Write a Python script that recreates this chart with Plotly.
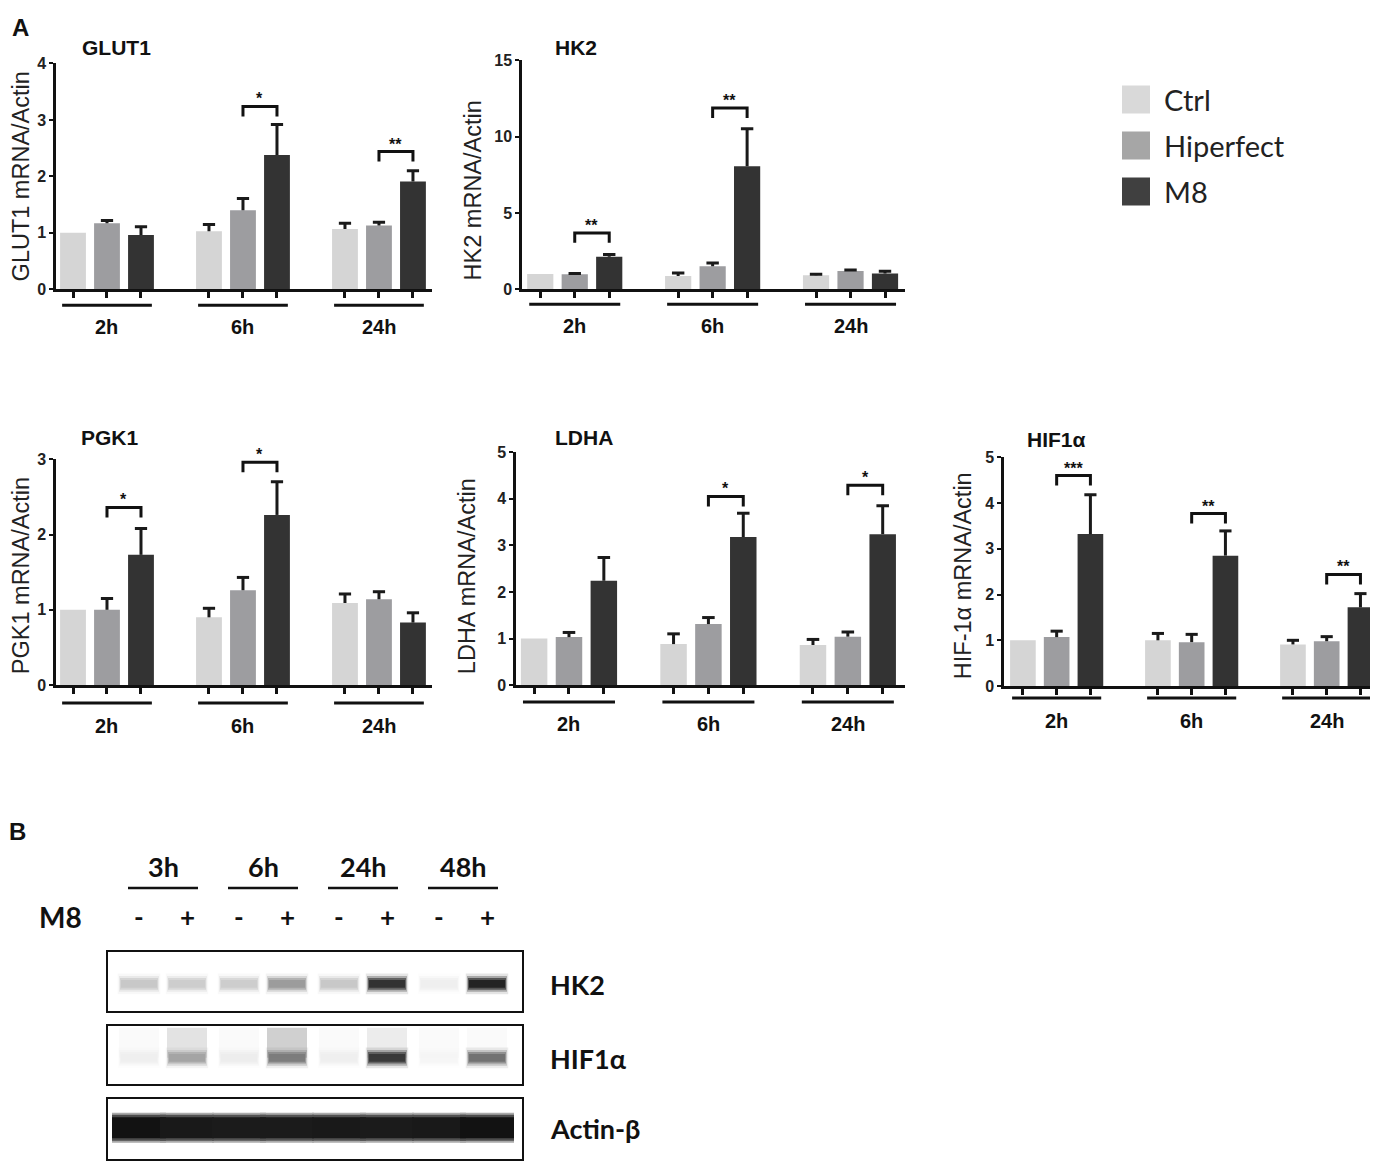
import plotly.graph_objects as go

# target picture is 1378x1163; measured page mapping: picture_x = 8 + fig_x,
# picture_y = 16.5 + 0.986 * fig_y
W, H = 1378, 1163
OFFX = 8
TY, SY = 16.5, 0.986
FW, FH = W - 2 * OFFX, H

# ---------------- data ----------------
times = ["2h", "6h", "24h"]
series = ["Ctrl", "Hiperfect", "M8"]

glut1_ctrl = [1.00, 1.03, 1.07]
glut1_ctrl_err = [0.00, 0.12, 0.10]
glut1_hip = [1.17, 1.40, 1.13]
glut1_hip_err = [0.05, 0.21, 0.06]
glut1_m8 = [0.96, 2.38, 1.91]
glut1_m8_err = [0.15, 0.54, 0.19]
glut1_sig_time = ["6h", "24h"]
glut1_sig_label = ["*", "**"]
glut1_sig_y = [3.24, 2.44]

hk2_ctrl = [1.00, 0.87, 0.92]
hk2_ctrl_err = [0.00, 0.20, 0.06]
hk2_hip = [0.98, 1.52, 1.20]
hk2_hip_err = [0.05, 0.20, 0.06]
hk2_m8 = [2.14, 8.07, 1.03]
hk2_m8_err = [0.15, 2.45, 0.15]
hk2_sig_time = ["2h", "6h"]
hk2_sig_label = ["**", "**"]
hk2_sig_y = [3.70, 11.88]

pgk1_ctrl = [1.00, 0.90, 1.09]
pgk1_ctrl_err = [0.00, 0.12, 0.12]
pgk1_hip = [1.00, 1.26, 1.14]
pgk1_hip_err = [0.15, 0.17, 0.10]
pgk1_m8 = [1.73, 2.26, 0.83]
pgk1_m8_err = [0.35, 0.44, 0.13]
pgk1_sig_time = ["2h", "6h"]
pgk1_sig_label = ["*", "*"]
pgk1_sig_y = [2.36, 2.96]

ldha_ctrl = [1.00, 0.88, 0.86]
ldha_ctrl_err = [0.00, 0.22, 0.12]
ldha_hip = [1.03, 1.31, 1.04]
ldha_hip_err = [0.10, 0.14, 0.10]
ldha_m8 = [2.24, 3.18, 3.24]
ldha_m8_err = [0.50, 0.51, 0.61]
ldha_sig_time = ["6h", "24h"]
ldha_sig_label = ["*", "*"]
ldha_sig_y = [4.05, 4.29]

hif1a_ctrl = [1.00, 1.00, 0.91]
hif1a_ctrl_err = [0.00, 0.15, 0.09]
hif1a_hip = [1.07, 0.96, 0.98]
hif1a_hip_err = [0.13, 0.17, 0.10]
hif1a_m8 = [3.32, 2.85, 1.72]
hif1a_m8_err = [0.86, 0.54, 0.30]
hif1a_sig_time = ["2h", "6h", "24h"]
hif1a_sig_label = ["***", "**", "**"]
hif1a_sig_y = [4.60, 3.77, 2.44]

# western blot (panel B): band darkness 0..1 per lane
blot_times = ["3h", "6h", "24h", "48h"]
blot_m8 = ["-", "+"]
blot_proteins = ["HK2", "HIF1α", "Actin-β"]
hk2_band = [0.22, 0.20, 0.20, 0.42, 0.22, 0.88, 0.05, 0.95]
hif1a_band = [0.05, 0.38, 0.06, 0.55, 0.05, 0.85, 0.02, 0.60]
hif1a_smear = [0.00, 0.10, 0.00, 0.18, 0.00, 0.06, 0.00, 0.00]
actin_band = [1.00, 0.97, 0.96, 0.96, 0.97, 0.96, 0.97, 1.00]

# ---------------- style ----------------
bar_colors = ["#d5d5d5", "#9d9da0", "#333333"]
legend_colors = ["#d9d9d9", "#a6a6a6", "#404040"]
ARIAL = "Liberation Sans, Arial, sans-serif"
CAL = "Lato, Open Sans, sans-serif"
INK = "#111111"


def fx(px):
    return min(max((px - OFFX) / FW, 0.0), 1.0)


def fy(py):
    return min(max(1 - ((py - TY) / SY) / FH, 0.0), 1.0)


panels = [
    dict(name="GLUT1", ytitle="GLUT1 mRNA/Actin", ctrl=glut1_ctrl, ctrl_err=glut1_ctrl_err,
         hip=glut1_hip, hip_err=glut1_hip_err, m8=glut1_m8, m8_err=glut1_m8_err,
         sig_t=glut1_sig_time, sig_l=glut1_sig_label, sig_y=glut1_sig_y,
         x0=56, x1=432, y0=64, y1=290, xr=[-0.5, 10.56], ymax=4, dtick=1,
         title_xy=(116, 48), ytitle_xy=(21, 177), ul_y=306, lab_y=328),
    dict(name="HK2", ytitle="HK2 mRNA/Actin", ctrl=hk2_ctrl, ctrl_err=hk2_ctrl_err,
         hip=hk2_hip, hip_err=hk2_hip_err, m8=hk2_m8, m8_err=hk2_m8_err,
         sig_t=hk2_sig_time, sig_l=hk2_sig_label, sig_y=hk2_sig_y,
         x0=522, x1=905, y0=61, y1=290, xr=[-0.53, 10.58], ymax=15, dtick=5,
         title_xy=(576, 48), ytitle_xy=(473, 191), ul_y=305, lab_y=327),
    dict(name="PGK1", ytitle="PGK1 mRNA/Actin", ctrl=pgk1_ctrl, ctrl_err=pgk1_ctrl_err,
         hip=pgk1_hip, hip_err=pgk1_hip_err, m8=pgk1_m8, m8_err=pgk1_m8_err,
         sig_t=pgk1_sig_time, sig_l=pgk1_sig_label, sig_y=pgk1_sig_y,
         x0=56, x1=432, y0=460, y1=686, xr=[-0.5, 10.56], ymax=3, dtick=1,
         title_xy=(110, 438), ytitle_xy=(21, 577), ul_y=704, lab_y=727),
    dict(name="LDHA", ytitle="LDHA mRNA/Actin", ctrl=ldha_ctrl, ctrl_err=ldha_ctrl_err,
         hip=ldha_hip, hip_err=ldha_hip_err, m8=ldha_m8, m8_err=ldha_m8_err,
         sig_t=ldha_sig_time, sig_l=ldha_sig_label, sig_y=ldha_sig_y,
         x0=516, x1=905, y0=453, y1=686, xr=[-0.52, 10.64], ymax=5, dtick=1,
         title_xy=(584, 438), ytitle_xy=(467, 577), ul_y=703, lab_y=725),
    dict(name="HIF1α", ytitle="HIF-1α mRNA/Actin", ctrl=hif1a_ctrl, ctrl_err=hif1a_ctrl_err,
         hip=hif1a_hip, hip_err=hif1a_hip_err, m8=hif1a_m8, m8_err=hif1a_m8_err,
         sig_t=hif1a_sig_time, sig_l=hif1a_sig_label, sig_y=hif1a_sig_y,
         x0=1004, x1=1378, y0=458, y1=687, xr=[-0.56, 10.52], ymax=5, dtick=1,
         title_xy=(1056, 440), ytitle_xy=(963, 577), ul_y=699, lab_y=722),
]

fig = go.Figure()
layout = dict(width=FW, height=FH, margin=dict(l=0, r=0, t=0, b=0),
              paper_bgcolor="white", plot_bgcolor="rgba(0,0,0,0)",
              showlegend=False, barmode="overlay")
annotations = []
shapes = []


def ann(text, px, py, size, family=ARIAL, weight="bold", color=INK, xanchor="center", angle=0):
    annotations.append(dict(text=text, x=fx(px), y=fy(py), xref="paper", yref="paper",
                            xanchor=xanchor, yanchor="middle", showarrow=False, textangle=angle,
                            font=dict(family=family, size=size, color=color, weight=weight)))


for i, p in enumerate(panels):
    n = i + 1
    xid = "x" if n == 1 else f"x{n}"
    yid = "y" if n == 1 else f"y{n}"
    xkey = "xaxis" if n == 1 else f"xaxis{n}"
    ykey = "yaxis" if n == 1 else f"yaxis{n}"
    # clip the axis to the visible page width, keeping the same px-per-unit
    x1_vis = min(p["x1"], W - OFFX)
    upx = (p["xr"][1] - p["xr"][0]) / (p["x1"] - p["x0"])
    xr = [p["xr"][0], p["xr"][0] + upx * (x1_vis - p["x0"])]
    means = [p["ctrl"], p["hip"], p["m8"]]
    errs = [p["ctrl_err"], p["hip_err"], p["m8_err"]]
    all_pos = []
    ex, ey = [], []
    for s in range(3):
        pos = [g * 4 + s for g in range(len(times))]
        all_pos += pos
        fig.add_trace(go.Bar(x=pos, y=means[s], width=0.76, marker=dict(color=bar_colors[s], line=dict(width=0)),
                             name=series[s], xaxis=xid, yaxis=yid))
        for xc, v, e in zip(pos, means[s], errs[s]):
            if e > 0:
                ex += [xc, xc, None, xc - 0.18, xc + 0.18, None]
                ey += [v, v + e, None, v + e, v + e, None]
    fig.add_trace(go.Scatter(x=ex, y=ey, mode="lines", line=dict(color="#1a1a1a", width=3),
                             xaxis=xid, yaxis=yid, hoverinfo="skip", cliponaxis=False))
    # significance brackets
    drop = 10 * p["ymax"] / (p["y1"] - p["y0"])
    bx, by = [], []
    for t, lab, yb in zip(p["sig_t"], p["sig_l"], p["sig_y"]):
        g = times.index(t)
        xa, xb = g * 4 + 1, g * 4 + 2
        bx += [xa, xa, xb, xb, None]
        by += [yb - drop, yb, yb, yb - drop, None]
        annotations.append(dict(text=lab, x=(xa + xb) / 2, y=yb, xref=xid, yref=yid,
                                xanchor="center", yanchor="bottom", yshift=-3, showarrow=False,
                                font=dict(family=ARIAL, size=16, color=INK, weight="bold")))
    fig.add_trace(go.Scatter(x=bx, y=by, mode="lines", line=dict(color=INK, width=3),
                             xaxis=xid, yaxis=yid, hoverinfo="skip", cliponaxis=False))
    layout[xkey] = dict(domain=[fx(p["x0"]), fx(x1_vis)], range=xr, anchor=yid,
                        showline=True, linewidth=2.5, linecolor=INK, ticks="outside", ticklen=6,
                        tickwidth=2.5, tickcolor=INK, tickvals=sorted(all_pos), showticklabels=False,
                        showgrid=False, zeroline=False)
    layout[ykey] = dict(domain=[fy(p["y1"]), fy(p["y0"])], range=[0, p["ymax"]], anchor=xid,
                        showline=True, linewidth=2.5, linecolor=INK, ticks="outside", ticklen=4,
                        tickwidth=2, tickcolor=INK, tick0=0, dtick=p["dtick"],
                        tickfont=dict(family=ARIAL, size=16, color="#222222", weight="bold"),
                        showgrid=False, zeroline=False)
    # group underlines and labels
    for g, t in enumerate(times):
        c = g * 4 + 1
        shapes.append(dict(type="line", xref=xid, yref="paper", x0=c - 1.32, x1=c + 1.32,
                           y0=fy(p["ul_y"]), y1=fy(p["ul_y"]), line=dict(color=INK, width=3)))
        annotations.append(dict(text=t, x=c, y=fy(p["lab_y"]), xref=xid, yref="paper",
                                xanchor="center", yanchor="middle", showarrow=False,
                                font=dict(family=ARIAL, size=20, color=INK, weight="bold")))
    ann(p["name"], p["title_xy"][0], p["title_xy"][1], 21)
    ann(p["ytitle"], p["ytitle_xy"][0], p["ytitle_xy"][1], 23.5, weight="normal", color="#222222", angle=-90)

# panel labels
ann("A", 20, 28, 24)
ann("B", 17, 833, 24)

# ---------------- legend (own hidden axes) ----------------
layout["xaxis9"] = dict(domain=[fx(1111), fx(1361)], range=[-0.5, 4.5], anchor="y9", visible=False)
layout["yaxis9"] = dict(domain=[fy(215), fy(77)], range=[2.5, -0.5], anchor="x9", visible=False)
fig.add_trace(go.Scatter(x=[0] * len(series), y=list(range(len(series))), mode="markers",
                         marker=dict(symbol="square", size=28, color=legend_colors, line=dict(width=0)),
                         xaxis="x9", yaxis="y9", hoverinfo="skip"))
for k, s in enumerate(series):
    annotations.append(dict(text=s, x=0, y=k, xref="x9", yref="y9", xanchor="left", yanchor="middle",
                            xshift=26, showarrow=False, font=dict(family=CAL, size=29, color="#222222")))

# ---------------- panel B: western blot ----------------
lane_x = [g + (-0.24 if m == "-" else 0.24) for g in range(len(blot_times)) for m in blot_m8]
lane_sign = [m for g in range(len(blot_times)) for m in blot_m8]
blot_xr = [-0.55, 3.59]
# (top, bottom, band centre) in picture px
blot_boxes = [(953, 1012, 985), (1027, 1085, 1059), (1100, 1160, 1129)]


def gray(d, a=1.0):
    v = int(round(250 - 232 * d))
    return f"rgba({v},{v},{v},{a})"


blot_ax = []
for j, (top, bot, cen) in enumerate(blot_boxes):
    n = 6 + j
    xkey, ykey = f"xaxis{n}", f"yaxis{n}"
    layout[xkey] = dict(domain=[fx(108), fx(522)], range=blot_xr, anchor=f"y{n}", showline=True,
                        mirror=True, linewidth=2, linecolor=INK, ticks="", showticklabels=False,
                        showgrid=False, zeroline=False)
    # y axis in picture px (reversed) so band sizes stay in pixels
    layout[ykey] = dict(domain=[fy(bot), fy(top)], range=[bot, top], anchor=f"x{n}", showline=True,
                        mirror=True, linewidth=2, linecolor=INK, ticks="", showticklabels=False,
                        showgrid=False, zeroline=False)
    blot_ax.append((f"x{n}", f"y{n}", cen))


def band_layer(axes, vals, center, h, w, alpha, scale=1.0):
    xa, ya, _ = axes
    fig.add_trace(go.Bar(x=lane_x, y=[h] * len(vals), base=[center - h / 2] * len(vals), width=w,
                         marker=dict(color=[gray(d * scale, alpha) for d in vals], line=dict(width=0)),
                         xaxis=xa, yaxis=ya, hoverinfo="skip"))


def band(axes, vals, h, w):
    c = axes[2]
    band_layer(axes, vals, c, h * 1.9, w * 1.06, 0.12)
    band_layer(axes, vals, c, h * 1.45, w * 1.0, 0.3)
    band_layer(axes, vals, c, h * 1.05, w * 0.95, 0.6)
    band_layer(axes, vals, c, h * 0.7, w * 0.9, 0.9)


band(blot_ax[0], hk2_band, 11, 0.40)
band_layer(blot_ax[1], hif1a_smear, 1044, 30, 0.40, 1.0)
band(blot_ax[1], hif1a_band, 11, 0.40)
band_layer(blot_ax[2], actin_band, 1129, 30, 0.54, 1.0, 0.35)
band_layer(blot_ax[2], actin_band, 1129, 26, 0.54, 1.0, 0.75)
band_layer(blot_ax[2], actin_band, 1129, 21, 0.54, 1.0)

# blot labels
for g, t in enumerate(blot_times):
    annotations.append(dict(text=t, x=g, y=fy(868), xref="x6", yref="paper", xanchor="center",
                            yanchor="middle", showarrow=False,
                            font=dict(family=CAL, size=27, color=INK, weight="bold")))
    shapes.append(dict(type="line", xref="x6", yref="paper", x0=g - 0.35, x1=g + 0.35,
                       y0=fy(889), y1=fy(889), line=dict(color=INK, width=2.5)))
for xl, sgn in zip(lane_x, lane_sign):
    annotations.append(dict(text=sgn, x=xl, y=fy(918), xref="x6", yref="paper", xanchor="center",
                            yanchor="middle", showarrow=False,
                            font=dict(family=CAL, size=26, color=INK, weight="bold")))
ann("M8", 61, 918, 28, family=CAL)
for prot, (top, bot, cen) in zip(blot_proteins, blot_boxes):
    ann(prot, 548, cen + 1, 27, family=CAL, xanchor="left")

layout["annotations"] = annotations
layout["shapes"] = shapes
fig.update_layout(**layout)
fig.write_html("out.html")
